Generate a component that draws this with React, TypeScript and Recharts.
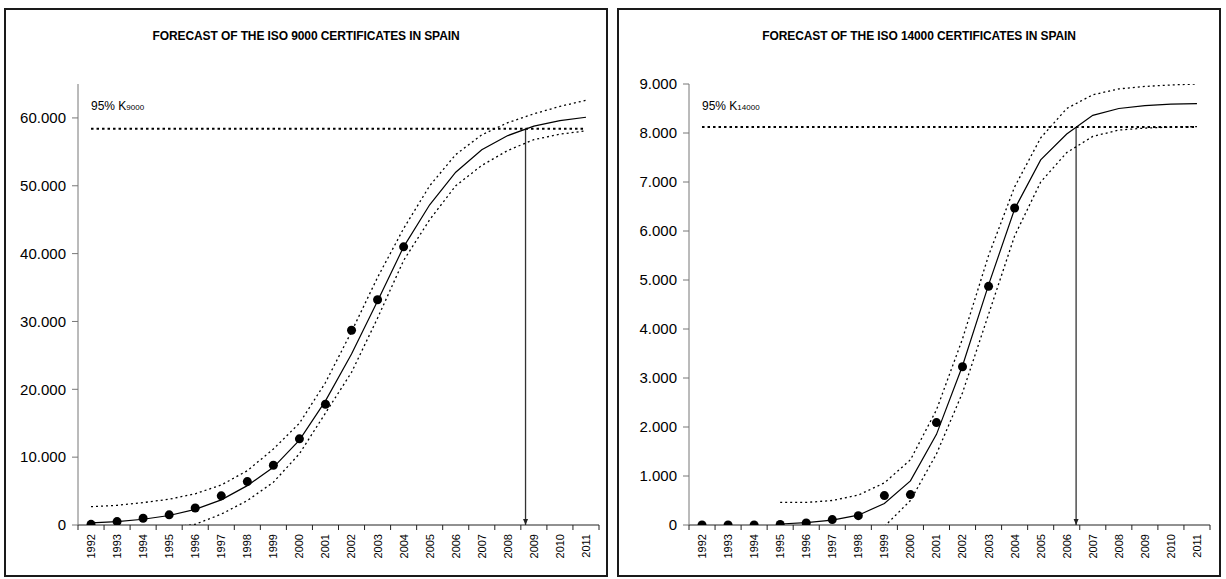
import React from "react";
import {
  LineChart,
  Line,
  XAxis,
  YAxis,
  ReferenceLine,
} from "recharts";

const years = [
  1992, 1993, 1994, 1995, 1996, 1997, 1998, 1999, 2000, 2001,
  2002, 2003, 2004, 2005, 2006, 2007, 2008, 2009, 2010, 2011,
];

// ISO 9000 (left chart)
const obs9000 = [
  100, 500, 1000, 1500, 2500, 4300, 6400, 8800, 12700, 17800,
  28700, 33200, 41000, null, null, null, null, null, null, null,
];
const fit9000 = [
  300, 500, 850, 1400, 2300, 3700, 5800, 8500, 12500, 18300,
  25200, 33000, 41000, 47200, 52000, 55300, 57400, 58800, 59600, 60100,
];
const up9000 = [
  2700, 2900, 3300, 3800, 4600, 5900, 8000, 11200, 15000, 21000,
  28500, 36500, 43700, 50000, 54600, 57500, 59300, 60600, 61700, 62600,
];
const lo9000 = [
  null, null, null, -400, 100, 1600, 3600, 6300, 10500, 16500,
  22500, 30500, 39000, 45000, 50000, 53000, 55200, 56800, 57600, 58100,
];
const k9000 = 58400;
const cross9000 = 2008.68;
const yTicks9000 = [0, 10000, 20000, 30000, 40000, 50000, 60000];

// ISO 14000 (right chart)
const obs14000 = [
  0, 0, 0, 10, 40, 110, 190, 600, 620, 2090,
  3230, 4870, 6470, null, null, null, null, null, null, null,
];
const fit14000 = [
  null, null, null, 20, 50, 100, 200, 440, 900, 1850,
  3250, 4900, 6450, 7450, 7980, 8360, 8500, 8560, 8590, 8600,
];
const up14000 = [
  null, null, null, 460, 460, 500, 610, 860, 1330, 2350,
  3800, 5500, 6900, 7900, 8500, 8780, 8900, 8950, 8980, 9000,
];
const lo14000 = [
  null, null, null, null, null, null, null, -30, 500, 1450,
  2700, 4300, 5900, 7000, 7600, 7930, 8060, 8100, 8120, 8130,
];
const k14000 = 8120;
const cross14000 = 2006.36;
const yTicks14000 = [0, 1000, 2000, 3000, 4000, 5000, 6000, 7000, 8000, 9000];

const FONT = '"Liberation Sans", Arial, sans-serif';
const W = 604;
const H = 569;
const BAND = 521 / 20;

if (typeof document !== "undefined") document.body.style.margin = "0";

const fmt = (n: number) => String(n).replace(/\B(?=(\d{3})+(?!\d))/g, ".");

const YearTick = (props: any) => {
  const { x, y, payload } = props;
  const last = payload.value === years[years.length - 1];
  return (
    <g>
      <line x1={x - BAND / 2} y1={y} x2={x - BAND / 2} y2={y + 5} stroke="#222" />
      {last && <line x1={x + BAND / 2} y1={y} x2={x + BAND / 2} y2={y + 5} stroke="#222" />}
      <text
        x={x}
        y={y + 9}
        transform={`rotate(-90, ${x}, ${y + 9})`}
        textAnchor="end"
        dy="0.36em"
        fontSize={11}
        fontFamily={FONT}
        fill="#000"
      >
        {payload.value}
      </text>
    </g>
  );
};

const Arrow = (p: any) => {
  const { x1, y1, x2, y2 } = p;
  return (
    <g>
      <line x1={x1} y1={y1} x2={x2} y2={y2} stroke="#333" strokeWidth={1.3} />
      <polygon points={`${x2 - 2.5},${y2 - 6} ${x2 + 2.5},${y2 - 6} ${x2},${y2}`} fill="#222" />
    </g>
  );
};

interface PanelProps {
  left: number;
  title: string;
  sub: string;
  labelX: number;
  obs: (number | null)[];
  fit: (number | null)[];
  up: (number | null)[];
  lo: (number | null)[];
  k: number;
  cross: number;
  yMax: number;
  yTicks: number[];
  yWidth: number;
  rightMargin: number;
}

function Panel(p: PanelProps) {
  const data = years.map((year, i) => ({
    year,
    obs: p.obs[i],
    fit: p.fit[i],
    up: p.up[i],
    lo: p.lo[i],
  }));

  return (
    <div style={{ position: "absolute", left: p.left, top: 8, width: W, height: H, fontFamily: FONT }}>
      <LineChart
        width={W}
        height={H}
        data={data}
        margin={{ top: 76, right: p.rightMargin, left: 0, bottom: 0 }}
        style={{ position: "absolute", left: 0, top: 0 }}
      >
        <XAxis
          dataKey="year"
          type="number"
          domain={[1991.5, 2011.5]}
          ticks={years}
          interval={0}
          height={52}
          tickSize={0}
          tickMargin={0}
          tickLine={false}
          axisLine={{ stroke: "#222" }}
          tick={<YearTick />}
        />
        <YAxis
          type="number"
          domain={[0, p.yMax]}
          allowDataOverflow
          ticks={p.yTicks}
          width={p.yWidth}
          tickSize={6}
          tickMargin={6}
          tickFormatter={fmt}
          axisLine={{ stroke: "#777" }}
          tickLine={{ stroke: "#777" }}
          tick={{ fontSize: 15, fill: "#000", fontFamily: FONT }}
        />
        <ReferenceLine
          segment={[{ x: 1992, y: p.k }, { x: 2011, y: p.k }]}
          stroke="#000"
          strokeWidth={2}
          strokeDasharray="2.5 3"
        />
        <ReferenceLine
          segment={[{ x: p.cross, y: p.k }, { x: p.cross, y: 0 }]}
          shape={<Arrow />}
        />
        <Line dataKey="up" stroke="#000" strokeWidth={1.3} strokeDasharray="2 3" dot={false} isAnimationActive={false} />
        <Line dataKey="lo" stroke="#000" strokeWidth={1.3} strokeDasharray="2 3" dot={false} isAnimationActive={false} />
        <Line dataKey="fit" stroke="#000" strokeWidth={1.2} dot={false} isAnimationActive={false} />
        <Line
          dataKey="obs"
          stroke="none"
          dot={{ r: 4.5, fill: "#000", stroke: "#000", strokeWidth: 0 }}
          isAnimationActive={false}
        />
      </LineChart>
      <div
        style={{
          position: "absolute",
          left: 0,
          top: 21,
          width: W,
          textAlign: "center",
          fontSize: 12,
          fontWeight: "bold",
          letterSpacing: -0.1,
        }}
      >
        {p.title}
      </div>
      <div style={{ position: "absolute", left: p.labelX, top: 91, fontSize: 12, whiteSpace: "nowrap" }}>
        95% K<span style={{ fontSize: 8 }}>{p.sub}</span>
      </div>
      <svg
        width={W}
        height={H}
        style={{ position: "absolute", left: 0, top: 0, pointerEvents: "none" }}
      >
        <rect x={1} y={1} width={W - 2} height={H - 2} fill="none" stroke="#1a1a1a" strokeWidth={2} />
      </svg>
    </div>
  );
}

export default function App() {
  return (
    <div style={{ position: "relative", width: 1226, height: 579, overflow: "hidden", background: "#fff" }}>
      <Panel
        left={4}
        title="FORECAST OF THE ISO 9000 CERTIFICATES IN SPAIN"
        sub="9000"
        labelX={87}
        obs={obs9000}
        fit={fit9000}
        up={up9000}
        lo={lo9000}
        k={k9000}
        cross={cross9000}
        yMax={65000}
        yTicks={yTicks9000}
        yWidth={74}
        rightMargin={9}
      />
      <Panel
        left={617}
        title="FORECAST OF THE ISO 14000 CERTIFICATES IN SPAIN"
        sub="14000"
        labelX={85}
        obs={obs14000}
        fit={fit14000}
        up={up14000}
        lo={lo14000}
        k={k14000}
        cross={cross14000}
        yMax={9000}
        yTicks={yTicks14000}
        yWidth={72}
        rightMargin={11}
      />
    </div>
  );
}
